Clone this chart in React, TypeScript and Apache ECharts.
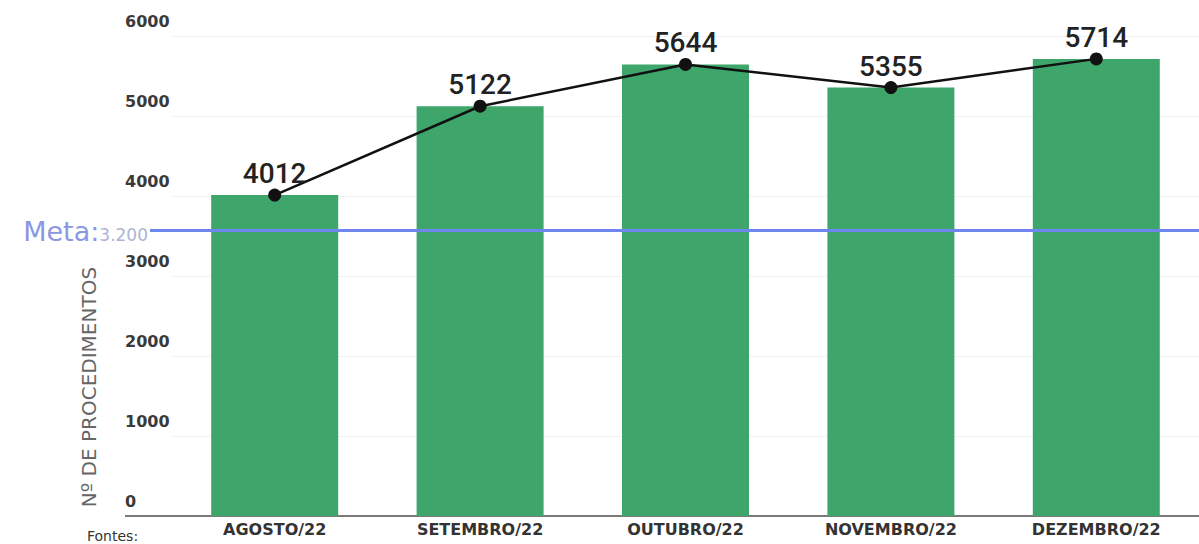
import React, { useEffect, useRef } from "react";
import * as echarts from "echarts";

const months = ["AGOSTO/22", "SETEMBRO/22", "OUTUBRO/22", "NOVEMBRO/22", "DEZEMBRO/22"];
const procedimentos = [4012, 5122, 5644, 5355, 5714];
const metaLinePosition = 3570; // where the goal line sits on the value axis
const metaText = "3.200";
const yMin = 0;
const yMax = 6000;
const yInterval = 1000;
const yTitle = "Nº DE PROCEDIMENTOS";
const footText = "Fontes:";

export default function App() {
  const ref = useRef<HTMLDivElement>(null);

  useEffect(() => {
    if (!ref.current) return;
    const chart = echarts.init(ref.current, undefined, { renderer: "svg" });
    const option: any = {
      animation: false,
      backgroundColor: "#ffffff",
      grid: { left: 172, right: -8, top: 36, bottom: 28, containLabel: false },
      xAxis: {
        type: "category",
        data: months,
        axisLine: { show: true, lineStyle: { color: "#7a7a7a", width: 2 } },
        axisTick: { show: false },
        axisLabel: {
          margin: 5,
          fontFamily: "DejaVu Sans",
          fontWeight: "bold",
          fontSize: 16,
          color: "#333333",
        },
      },
      yAxis: {
        type: "value",
        min: yMin,
        max: yMax,
        interval: yInterval,
        axisLine: { show: false },
        axisTick: { show: false },
        splitLine: { show: true, lineStyle: { color: "#f1f1f1", width: 1 } },
        axisLabel: {
          align: "left",
          margin: 47,
          verticalAlign: "bottom",
          padding: [0, 0, 7, 0],
          formatter: (v: number) => String(v),
          fontFamily: "DejaVu Sans",
          fontWeight: "bold",
          fontSize: 16,
          color: "#3a3a3a",
        },
      },
      series: [
        {
          type: "bar",
          data: procedimentos,
          barWidth: 127,
          clip: false,
          itemStyle: { color: "#3ea66b" },
          z: 2,
          markLine: {
            silent: true,
            symbol: ["none", "none"],
            lineStyle: { color: "#6f86ee", width: 3, type: "solid" },
            label: {
              show: true,
              position: "start",
              distance: 2,
              formatter: "{a|Meta:}{b|" + metaText + "}",
              rich: {
                a: {
                  fontFamily: "DejaVu Sans",
                  fontSize: 27,
                  color: "#8a98e4",
                  lineHeight: 30,
                  verticalAlign: "bottom",
                },
                b: {
                  fontFamily: "DejaVu Sans",
                  fontSize: 17,
                  color: "#aeb3d6",
                  lineHeight: 30,
                  verticalAlign: "bottom",
                  padding: [0, 0, 2, 0],
                },
              },
            },
            data: [[{ x: 150, yAxis: metaLinePosition }, { x: 1199, yAxis: metaLinePosition }]],
            z: 3,
          },
        },
        {
          type: "line",
          data: procedimentos,
          symbol: "circle",
          symbolSize: 13,
          itemStyle: { color: "#111111" },
          lineStyle: { color: "#111111", width: 2.5 },
          z: 5,
          label: {
            show: true,
            position: "top",
            distance: 1,
            fontFamily: "Roboto",
            fontWeight: 500,
            fontSize: 28,
            color: "#222222",
          },
        },
      ],
      graphic: [
        {
          type: "line",
          shape: { x1: 125, y1: 516, x2: 174, y2: 516 },
          style: { stroke: "#7a7a7a", lineWidth: 2 },
        },
        {
          type: "text",
          x: 89,
          y: 387,
          rotation: Math.PI / 2,
          style: {
            text: yTitle,
            fontFamily: "DejaVu Sans",
            fontSize: 20,
            fill: "#666666",
            align: "center",
            verticalAlign: "middle",
          },
        },
        {
          type: "text",
          x: 87,
          y: 543,
          style: {
            text: footText,
            fontFamily: "DejaVu Sans",
            fontSize: 14,
            fill: "#333333",
            align: "left",
            verticalAlign: "bottom",
          },
        },
      ],
    };
    chart.setOption(option);
    return () => chart.dispose();
  }, []);

  return (
    <div
      ref={ref}
      style={{ position: "fixed", left: 0, top: 0, width: 1199, height: 544 }}
    />
  );
}
